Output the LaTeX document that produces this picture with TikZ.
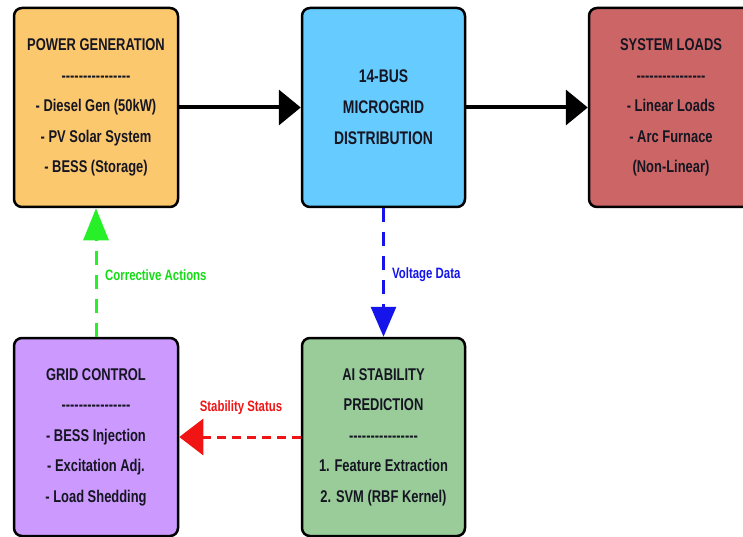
\documentclass[tikz,border=0pt]{standalone}
\usepackage{fontspec}
\newfontfamily\cf{Liberation Sans}[FakeStretch=0.76, Ligatures=TeXOff]
\usetikzlibrary{arrows.meta}
\definecolor{pgfill}{RGB}{251,200,110}
\definecolor{mgfill}{RGB}{102,204,255}
\definecolor{slfill}{RGB}{204,102,102}
\definecolor{gcfill}{RGB}{204,153,255}
\definecolor{aifill}{RGB}{153,204,153}
\definecolor{txt}{RGB}{22,22,34}
\definecolor{gline}{RGB}{40,240,40}
\definecolor{glabel}{RGB}{20,220,20}
\definecolor{bline}{RGB}{20,20,235}
\definecolor{rline}{RGB}{240,20,20}
\newcommand\dline{----------------}
\tikzset{
  blockbox/.style={draw=black, line width=2.5pt, rounded corners=8pt,
    minimum width=164pt, minimum height=199pt, align=center, text=txt,
    font=\cf\bfseries\fontsize{17}{30.5}\selectfont, inner sep=0pt},
  mainflow/.style={line width=4pt, -{Triangle[length=22pt,width=35pt]}},
  dashflow/.style={line width=3pt, dash pattern=on 14pt off 10pt},
  edgelabel/.style={font=\cf\bfseries\fontsize{15}{17}\selectfont, inner sep=0pt}
}
\begin{document}
\begin{tikzpicture}[x=1pt,y=-1pt]
\clip (0,0) rectangle (743,537);
\fill[white] (0,0) rectangle (743,537);
\node[blockbox, fill=pgfill] (pg) at (96,107.5) {POWER GENERATION\\\dline\\- Diesel Gen (50kW)\\- PV Solar System\\- BESS (Storage)};
\node[blockbox, fill=mgfill, minimum width=163pt, font=\cf\bfseries\fontsize{18.3}{31}\selectfont] (mg) at (383.5,107.5) {14-BUS\\MICROGRID\\DISTRIBUTION};
\node[blockbox, fill=slfill] (sl) at (671,107.5) {SYSTEM LOADS\\\dline\\- Linear Loads\\- Arc Furnace\\(Non-Linear)};
\node[blockbox, fill=gcfill, minimum height=198pt] (gc) at (96,437) {GRID CONTROL\\\dline\\- BESS Injection\\- Excitation Adj.\\- Load Shedding};
\node[blockbox, fill=aifill, minimum width=163pt, minimum height=198pt] (ai) at (383.5,437) {AI STABILITY\\PREDICTION\\\dline\\1. Feature Extraction\\2. SVM (RBF Kernel)};
\draw[mainflow] (pg.east) -- (mg.west);
\draw[mainflow] (mg.east) -- (sl.west);
\draw[dashflow, draw=gline, -{Triangle[length=32pt,width=25pt,fill=gline]}] (gc.north) -- (pg.south);
\draw[dashflow, draw=bline, -{Triangle[length=30pt,width=25pt,fill=bline]}] (mg.south) -- (ai.north);
\draw[line width=3pt, draw=rline, dash pattern=on 9pt off 6pt, -{Triangle[length=24pt,width=36pt,fill=rline]}] (ai.west) -- (gc.east);
\node[edgelabel, text=glabel, anchor=west] (lca) at (105,275) {Corrective Actions};
\node[edgelabel, text=bline, anchor=west] (lvd) at (392,275) {Voltage Data};
\node[edgelabel, text=rline] (lss) at (241,408) {Stability Status};
\end{tikzpicture}
\end{document}
